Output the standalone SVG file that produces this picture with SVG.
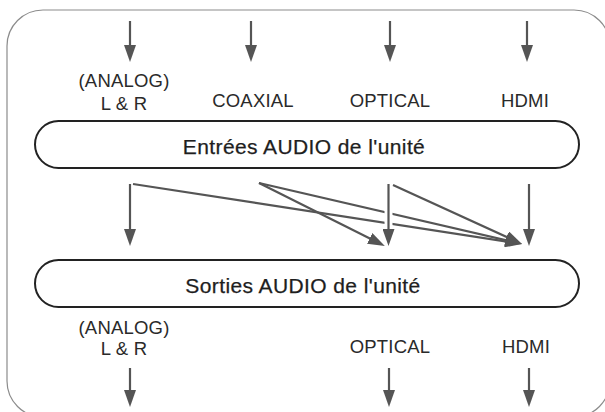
<svg xmlns="http://www.w3.org/2000/svg" width="605" height="412" viewBox="0 0 605 412">
  <style>
    .frame { fill: #ffffff; stroke: #8c8c8c; stroke-width: 1.2; }
    .box { fill: #ffffff; stroke: #222222; stroke-width: 2; }
    .arrow { stroke: #555555; stroke-width: 2.2; fill: none; marker-end: url(#ah); }
    .halo { stroke: #ffffff; stroke-width: 8; fill: none; }
    .lbl { font-family: "Liberation Sans", Arial, Helvetica, sans-serif; font-size: 18.5px; fill: #2a2a2a; text-anchor: middle; letter-spacing: 0.2px; }
    .title { font-family: "Liberation Sans", Arial, Helvetica, sans-serif; font-size: 21px; fill: #1e1e1e; text-anchor: middle; letter-spacing: 0.4px; stroke: #1e1e1e; stroke-width: 0.25px; }
  </style>
  <defs>
    <marker id="ah" viewBox="0 0 17 12" refX="7" refY="6" markerWidth="17" markerHeight="12" markerUnits="userSpaceOnUse" orient="auto">
      <path d="M0,0 L17,6 L0,12 z" fill="#555555"/>
    </marker>
  </defs>

  <rect class="frame" x="7" y="10" width="603" height="407" rx="36" ry="36"/>

  <g id="in-analog">
    <text class="lbl" x="124" y="87">(ANALOG)</text>
    <text class="lbl" x="124" y="110">L &amp; R</text>
  </g>
  <g id="in-coaxial">
    <text class="lbl" x="253" y="107">COAXIAL</text>
  </g>
  <g id="in-optical">
    <text class="lbl" x="390" y="107">OPTICAL</text>
  </g>
  <g id="in-hdmi">
    <text class="lbl" x="525" y="107">HDMI</text>
  </g>

  <g id="inputs-box">
    <rect class="box" x="35" y="121" width="544" height="47" rx="23.5" ry="23.5"/>
    <text class="title" x="304" y="154">Entrées AUDIO de l'unité</text>
  </g>

  <g id="outputs-box">
    <rect class="box" x="35" y="260" width="544" height="47" rx="23.5" ry="23.5"/>
    <text class="title" x="303" y="293">Sorties AUDIO de l'unité</text>
  </g>

  <g id="out-analog">
    <text class="lbl" x="124" y="334">(ANALOG)</text>
    <text class="lbl" x="124" y="355">L &amp; R</text>
  </g>
  <g id="out-optical">
    <text class="lbl" x="390" y="353">OPTICAL</text>
  </g>
  <g id="out-hdmi">
    <text class="lbl" x="526" y="353">HDMI</text>
  </g>

  <g id="connectors">
    <!-- top input arrows -->
    <line class="arrow" x1="130" y1="21" x2="130" y2="52"/>
    <line class="arrow" x1="251" y1="21" x2="251" y2="52"/>
    <line class="arrow" x1="390" y1="21" x2="390" y2="52"/>
    <line class="arrow" x1="527" y1="21" x2="527" y2="52"/>

    <!-- routing between boxes -->
    <line class="arrow" x1="130" y1="184" x2="130" y2="236"/>
    <line class="arrow" x1="133" y1="184" x2="512.1" y2="242.5"/>
    <line class="arrow" x1="259" y1="183" x2="375.9" y2="241.5"/>
    <line class="arrow" x1="259" y1="183" x2="512.3" y2="241.7"/>
    <line class="arrow" x1="393" y1="185" x2="512.9" y2="239.8"/>
    <line class="halo" x1="388.5" y1="204" x2="388.5" y2="230"/>
    <line class="arrow" x1="388.5" y1="184" x2="388.5" y2="236"/>
    <line class="arrow" x1="529" y1="184" x2="529" y2="236"/>

    <!-- bottom output arrows -->
    <line class="arrow" x1="130" y1="368" x2="130" y2="397"/>
    <line class="arrow" x1="389" y1="368" x2="389" y2="397"/>
    <line class="arrow" x1="529" y1="368" x2="529" y2="397"/>
  </g>
</svg>
